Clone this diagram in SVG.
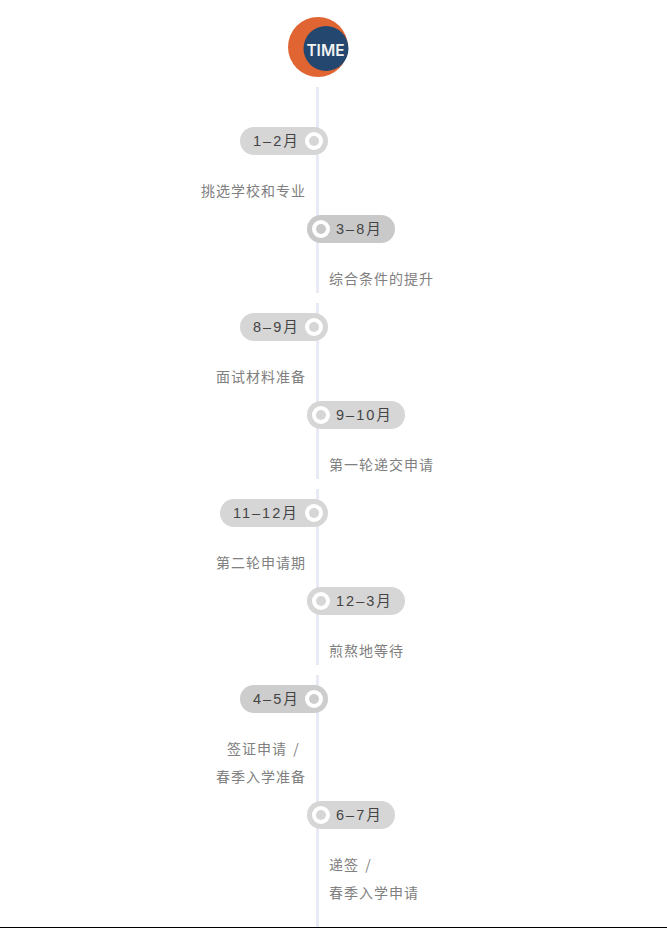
<svg xmlns="http://www.w3.org/2000/svg" width="667" height="928" viewBox="0 0 667 928">
<style>
.seg{fill:#e8ebf5}
.a{fill:#d6d6d6}.b{fill:#c9c9c9}.c{fill:#cdcdcd}
.ring{fill:#fff}
.t{font:14.5px "Liberation Sans","Noto Sans CJK SC",sans-serif;letter-spacing:2px;fill:#444}
.d{font:14px "Noto Sans CJK SC",sans-serif;letter-spacing:1px;fill:#808080}
.e{text-anchor:end}
</style>
<rect width="667" height="928" fill="#fff"/>
<g id="connectors">
<rect class="seg" x="316" y="87" width="3" height="206"/>
<rect class="seg" x="316" y="303" width="3" height="176"/>
<rect class="seg" x="316" y="489" width="3" height="176"/>
<rect class="seg" x="316" y="675" width="3" height="252"/>
</g>
<g id="time">
<circle cx="318" cy="47" r="30" fill="#e06532"/>
<circle cx="326" cy="48.500" r="22.500" fill="#23476f"/>
<text x="325.500" y="55.500" text-anchor="middle" font-family="Inter, sans-serif" font-size="15.500" font-weight="600" fill="#f2f2f2">TIME</text>
</g>
<g id="n1"><rect class="a" x="240" y="127" width="88" height="28" rx="14"/><circle class="ring" cx="314" cy="141" r="9"/><circle class="a" cx="314" cy="141" r="5"/><text class="t" x="253" y="146">1–2月</text><text class="d e" x="306" y="196">挑选学校和专业</text></g>
<g id="n2"><rect class="b" x="307" y="215" width="88" height="28" rx="14"/><circle class="ring" cx="321" cy="229" r="9"/><circle class="b" cx="321" cy="229" r="5"/><text class="t" x="336" y="234">3–8月</text><text class="d" x="329" y="284">综合条件的提升</text></g>
<g id="n3"><rect class="a" x="240" y="313" width="88" height="28" rx="14"/><circle class="ring" cx="314" cy="327" r="9"/><circle class="a" cx="314" cy="327" r="5"/><text class="t" x="253" y="332">8–9月</text><text class="d e" x="306" y="382">面试材料准备</text></g>
<g id="n4"><rect class="a" x="307" y="401" width="98" height="28" rx="14"/><circle class="ring" cx="321" cy="415" r="9"/><circle class="a" cx="321" cy="415" r="5"/><text class="t" x="336" y="420">9–10月</text><text class="d" x="329" y="470">第一轮递交申请</text></g>
<g id="n5"><rect class="a" x="220" y="499" width="108" height="28" rx="14"/><circle class="ring" cx="314" cy="513" r="9"/><circle class="a" cx="314" cy="513" r="5"/><text class="t" x="233" y="518">11–12月</text><text class="d e" x="306" y="568">第二轮申请期</text></g>
<g id="n6"><rect class="a" x="307" y="587" width="98" height="28" rx="14"/><circle class="ring" cx="321" cy="601" r="9"/><circle class="a" cx="321" cy="601" r="5"/><text class="t" x="336" y="606">12–3月</text><text class="d" x="329" y="656">煎熬地等待</text></g>
<g id="n7"><rect class="c" x="240" y="685" width="88" height="28" rx="14"/><circle class="ring" cx="314" cy="699" r="9"/><circle class="c" cx="314" cy="699" r="5"/><text class="t" x="253" y="704">4–5月</text><text class="d" x="227" y="754">签证申请 <tspan dx="2">/</tspan></text><text class="d e" x="306" y="782">春季入学准备</text></g>
<g id="n8"><rect class="a" x="307" y="801" width="88" height="28" rx="14"/><circle class="ring" cx="321" cy="815" r="9"/><circle class="a" cx="321" cy="815" r="5"/><text class="t" x="336" y="820">6–7月</text><text class="d" x="329" y="870">递签 <tspan dx="2">/</tspan></text><text class="d" x="329" y="898">春季入学申请</text></g>
<rect x="0" y="927" width="667" height="1" fill="#000"/>
</svg>
